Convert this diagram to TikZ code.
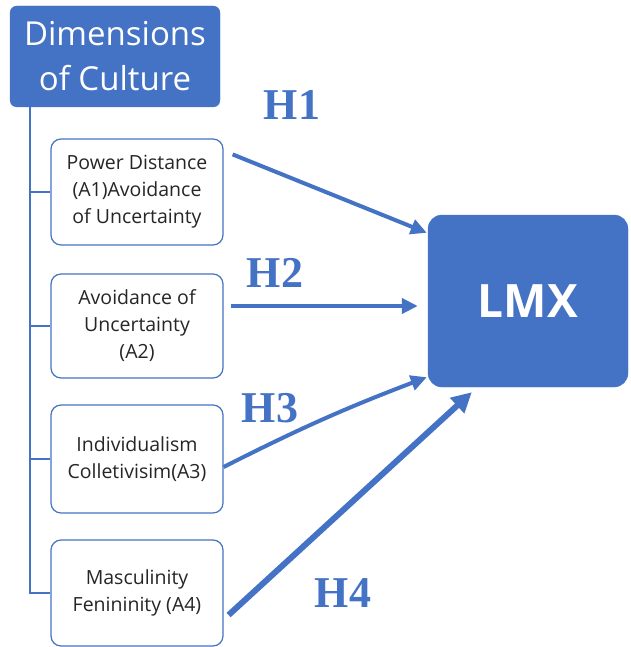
\documentclass[tikz,border=0pt]{standalone}
\usepackage{fontspec}
\setmainfont{Open Sans}
\newfontfamily\hfont{Liberation Serif}
\usetikzlibrary{arrows.meta,calc}
\definecolor{cblue}{HTML}{4472C4}
\definecolor{ctext}{HTML}{262626}
\begin{document}
\begin{tikzpicture}[x=1pt,y=-1pt,
  hdrbox/.style={draw=cblue,fill=cblue,rounded corners=7pt,minimum width=210pt,minimum height=101pt,text=white,font=\fontsize{33}{45}\selectfont,align=center,inner sep=0pt},
  dimbox/.style={draw=cblue,line width=1.2pt,fill=white,rounded corners=10pt,minimum width=172pt,text=ctext,font=\fontsize{19.5}{27}\selectfont,align=center,inner sep=0pt},
  lmxbox/.style={draw=cblue,fill=cblue,rounded corners=14pt,minimum width=200pt,minimum height=172pt,text=white,font=\fontsize{46}{50}\selectfont\bfseries,inner sep=0pt},
  trunk/.style={draw=cblue,line width=1.2pt},
  harrow/.style={draw=cblue,line width=4pt,-{Triangle[length=16pt,width=15pt]}},
  hlabel/.style={text=cblue,font=\hfont\bfseries\fontsize{44}{48}\selectfont,inner sep=0pt}
]
\useasboundingbox (0,0) rectangle (630,647);

\node[hdrbox] (hdr) at (115,56.5) {Dimensions\\of Culture};
\node[dimbox,minimum height=106pt] (a1) at (137,192) {Power Distance\\(A1)Avoidance\\of Uncertainty};
\node[dimbox,minimum height=104pt] (a2) at (137,326) {Avoidance of\\Uncertainty\\(A2)};
\node[dimbox,minimum height=108pt] (a3) at (137,459) {Individualism\\Colletivisim(A3)};
\node[dimbox,minimum height=106pt] (a4) at (137,593) {Masculinity\\Fenininity (A4)};
\node[lmxbox] (lmx) at (528,301) {LMX};

\coordinate (t) at (30,107);
\draw[trunk] (t) |- (a4.west);
\draw[trunk] (t |- a1.west) -- (a1.west);
\draw[trunk] (t |- a2.west) -- (a2.west);
\draw[trunk] (t |- a3.west) -- (a3.west);

\coordinate (s1) at ($(a1.north east)+(9,16)$);
\coordinate (s2) at ($(a2.east)+(7,-20)$);
\coordinate (s3) at ($(a3.east)+(0,8)$);
\coordinate (s4) at ($(a4.east)+(5,22)$);
\coordinate (e1) at ($(lmx.north west)+(-1,18)$);
\coordinate (e2) at ($(lmx.west)+(-10,5)$);
\coordinate (e3) at ($(lmx.south west)+(-1,-10)$);
\coordinate (e4) at ($(lmx.south west)+(44,5)$);

\draw[harrow] (s1) -- (e1);
\draw[harrow] (s2) -- (e2);
\draw[harrow] (s3) to[bend left=3] (e3);
\draw[harrow,line width=6pt,-{Triangle[length=20pt,width=20pt]}] (s4) -- (e4);

\node[hlabel] (h1) at (292,105) {H1};
\node[hlabel] (h2) at (275,273) {H2};
\node[hlabel] (h3) at (270,408) {H3};
\node[hlabel] (h4) at (343,593) {H4};
\end{tikzpicture}
\end{document}
